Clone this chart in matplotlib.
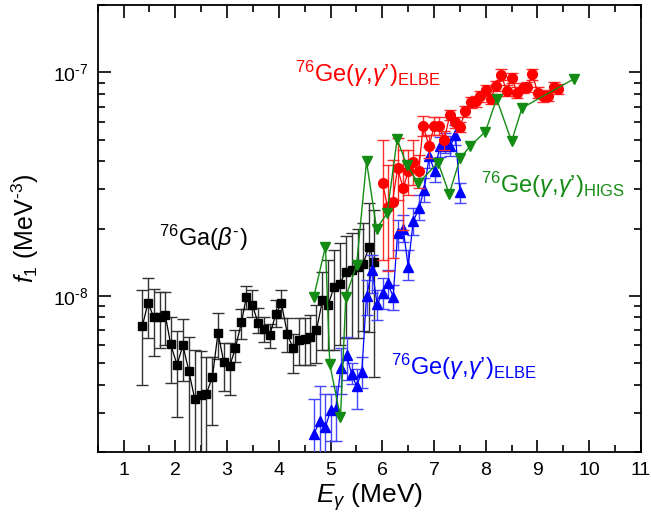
import numpy as np
import matplotlib
matplotlib.use("Agg")
import matplotlib.pyplot as plt
from matplotlib.ticker import MultipleLocator, FixedLocator, LogLocator, NullFormatter, FixedFormatter

plt.rcParams['font.family'] = ['Liberation Sans', 'DejaVu Sans']
plt.rcParams['mathtext.fontset'] = 'custom'
plt.rcParams['mathtext.rm'] = 'Liberation Sans'
plt.rcParams['mathtext.it'] = 'Liberation Sans:italic'
plt.rcParams['mathtext.bf'] = 'Liberation Sans:bold'

# 76Ga beta decay (black squares), f1 in units of 1e-9 MeV^-3
ga_e = [1.364, 1.472, 1.582, 1.698, 1.808, 1.911, 2.033, 2.149, 2.259, 2.375, 2.491,
        2.602, 2.718, 2.826, 2.936, 3.052, 3.162, 3.279, 3.375, 3.491, 3.600, 3.716,
        3.826, 3.942, 4.052, 4.168, 4.277, 4.393, 4.503, 4.613, 4.729, 4.845, 4.953,
        5.070, 5.180, 5.296, 5.406, 5.522, 5.631, 5.747, 5.843]
ga_f = [7.31, 9.3, 8.05, 8.0, 8.17, 6.07, 4.92, 6.0, 4.63, 3.47, 3.59, 3.65, 4.34, 6.83,
        5.06, 4.84, 5.84, 7.6, 9.9, 9.08, 7.57, 7.1, 6.67, 8.28, 9.24, 6.73, 5.81, 6.33,
        6.41, 6.55, 7.01, 9.57, 9.08, 11.0, 11.3, 12.8, 13.0, 13.4, 13.9, 16.6, 14.2]
ga_hi = [10.6, 12.0, 10.7, 10.4, 10.35, 8.05, 6.95, 7.84, 6.55, 5.71, 5.65, 5.32, 5.32,
         8.34, 6.12, 6.12, 7.02, 8.69, 11.1, 10.6, 8.8, 8.05, 7.47, 9.57, 10.6, 7.96,
         6.78, 7.92, 7.92, 8.19, 9.08, 12.8, 14.5, 16.0, 17.2, 18.5, 19.0, 20.0, 21.2,
         26.1, 24.2]
ga_lo = [3.98, 6.5, 5.4, 5.81, 6.01, 4.07, 2.86, 4.14, 1.0, 1.0, 1.0, 1.0, 2.63, 5.24,
         3.74, 3.59, 5.06, 6.44, 8.69, 8.0, 6.83, 6.22, 5.85, 7.26, 7.92, 5.61, 4.52,
         4.89, 4.89, 4.89, 5.01, 5.75, 5.71, 5.75, 6.05, 6.48, 6.48, 6.48, 6.95, 6.9, 4.34]

# 76Ge(g,g') ELBE, blue set, units of 1e-9 MeV^-3
geb_e = [4.683, 4.793, 4.903, 5.006, 5.103, 5.199, 5.310, 5.406, 5.503, 5.605, 5.696,
         5.805, 5.901, 6.006, 6.103, 6.211, 6.296, 6.404, 6.501, 6.598, 6.714, 6.810,
         6.907, 7.012, 7.114, 7.211, 7.313, 7.414, 7.501]
geb_f = [2.42, 2.74, 2.59, 3.09, 3.13, 4.75, 5.42, 4.49, 3.94, 4.56, 9.97, 13.1, 9.15,
         10.3, 11.4, 9.9, 19.0, 20.0, 13.5, 21.5, 24.8, 29.8, 42.0, 36.2, 46.6, 48.0,
         46.6, 52.5, 29.0]
geb_hi = [3.47, 3.94, 3.65, 3.65, 3.94, 5.81, 6.55, 5.0, 4.72, 5.32, 11.75, 15.2, 10.6,
          12.0, 13.0, 11.2, 21.9, 23.0, 16.0, 24.7, 28.3, 33.7, 46.5, 40.6, 51.5, 53.7,
          52.0, 58.3, 31.9]
geb_lo = [1.5, 1.8, 1.8, 2.25, 2.25, 3.65, 4.19, 4.05, 3.13, 3.85, 8.19, 10.3, 7.78,
          8.7, 9.8, 8.6, 16.0, 17.4, 11.8, 18.7, 21.9, 26.3, 37.4, 32.4, 41.9, 43.7,
          42.3, 47.4, 26.1]

# 76Ge(g,g') ELBE, red set, units of 1e-8 MeV^-3
ger_e = [6.006, 6.103, 6.199, 6.296, 6.404, 6.501, 6.598, 6.702, 6.791, 6.905, 7.004,
         7.100, 7.197, 7.308, 7.404, 7.501, 7.604, 7.710, 7.807, 7.894, 8.004, 8.100,
         8.197, 8.294, 8.404, 8.501, 8.609, 8.714, 8.803, 8.903, 9.004, 9.112, 9.209,
         9.319, 9.402]
ger_f = [3.19, 2.49, 2.64, 3.72, 3.03, 3.60, 3.95, 3.60, 5.77, 4.66, 5.77, 5.77, 4.99,
         6.46, 5.97, 5.69, 6.68, 7.33, 7.41, 7.80, 8.30, 7.60, 8.70, 9.77, 8.28, 9.45,
         8.10, 8.52, 8.60, 9.78, 8.10, 7.80, 7.86, 8.60, 8.43]
ger_hi = [4.99, 3.86, 4.06, 5.09, 4.5, 4.5, 4.99, 4.27, 6.4, 5.26, 6.33, 6.33, 5.48,
          6.81, 6.30, 6.00, 7.05, 7.73, 7.82, 8.23, 8.76, 8.02, 9.18, 10.31, 8.74, 9.97,
          8.55, 8.99, 9.07, 10.32, 8.55, 8.23, 8.29, 9.07, 8.89]
ger_lo = [1.45, 1.29, 1.48, 2.69, 1.97, 2.83, 3.13, 3.04, 5.2, 4.14, 5.26, 5.26, 4.5,
          6.10, 5.64, 5.38, 6.31, 6.93, 7.00, 7.37, 7.84, 7.18, 8.22, 9.23, 7.82, 8.93,
          7.65, 8.05, 8.13, 9.24, 7.65, 7.37, 7.43, 8.13, 7.97]

# 76Ge(g,g') HIGS (green), units of 1e-8 MeV^-3
higs_e = [4.677, 4.903, 4.986, 5.193, 5.296, 5.503, 5.696, 5.890, 6.095, 6.288, 6.470,
          6.694, 7.080, 7.294, 7.507, 7.694, 7.994, 8.210, 8.500, 8.700, 9.700]
higs_f = [0.99, 1.66, 0.494, 0.286, 0.99, 1.37, 3.99, 2.0, 2.34, 5.02, 3.86, 3.19, 3.94,
          2.86, 4.13, 4.66, 5.43, 7.6, 4.91, 6.92, 9.33]

# axis ticks
x_ticks = [1, 2, 3, 4, 5, 6, 7, 8, 9, 10, 11]
y_ticks = [1e-8, 1e-7]
y_tick_labels = [r'10$^{\mathregular{‐8}}$', r'10$^{\mathregular{‐7}}$']


def scaled(vals, unit):
    return np.asarray(vals) * unit


def asym_err(f, lo, hi):
    return np.vstack([f - lo, hi - f])


fig = plt.figure(figsize=(6.51, 5.15), dpi=100)
ax = fig.add_axes([0.150, 0.1223, 0.8346, 0.868])

# black: 76Ga beta decay
f = scaled(ga_f, 1e-9)
ax.errorbar(ga_e, f, yerr=asym_err(f, scaled(ga_lo, 1e-9), scaled(ga_hi, 1e-9)),
            fmt='s-', color='black', ecolor='0.2', ms=5.8, lw=0.9, elinewidth=1.0,
            capsize=4, capthick=1.0, zorder=2)

# blue: ELBE
f = scaled(geb_f, 1e-9)
ax.errorbar(geb_e, f, yerr=asym_err(f, scaled(geb_lo, 1e-9), scaled(geb_hi, 1e-9)),
            fmt='^-', color='#0000ff', ecolor='#4646ff', ms=6.5, lw=0.9, elinewidth=1.0,
            capsize=4, capthick=1.0, zorder=3)

# red: ELBE
f = scaled(ger_f, 1e-8)
ax.errorbar(ger_e, f, yerr=asym_err(f, scaled(ger_lo, 1e-8), scaled(ger_hi, 1e-8)),
            fmt='o-', color='#ff0000', ecolor='#ff2a2a', ms=7, lw=0.9, elinewidth=1.0,
            capsize=4, capthick=1.0, zorder=4)

# green: HIGS
ax.plot(higs_e, scaled(higs_f, 1e-8), 'v-', color='#138c13', ms=7.5, lw=1.0, zorder=5)

ax.set_yscale('log')
ax.set_xlim(0.5, 11)
ax.set_ylim(2e-9, 2e-7)

ax.xaxis.set_major_locator(FixedLocator(x_ticks))
ax.xaxis.set_minor_locator(MultipleLocator(0.5))
ax.yaxis.set_major_locator(FixedLocator(y_ticks))
ax.yaxis.set_major_formatter(FixedFormatter(y_tick_labels))
ax.yaxis.set_minor_locator(LogLocator(base=10, subs=np.arange(2, 10), numticks=20))
ax.yaxis.set_minor_formatter(NullFormatter())

ax.tick_params(which='both', direction='in', top=True, right=True, width=1.2,
               labelsize=14)
ax.tick_params(which='major', length=9, pad=7)
ax.tick_params(which='minor', length=5)
for sp in ax.spines.values():
    sp.set_linewidth(1.3)

ax.set_xlabel(r'$E_\gamma$ (MeV)', fontsize=19, labelpad=2)
ax.set_ylabel(r'$f_1$ (MeV$^{\mathregular{‐3}}$)', fontsize=18, labelpad=8)

ax.text(2.55, 1.82e-8, r'$^{76}$Ga($\beta^{\mathregular{‐}}$)', fontsize=17, ha='center',
        va='center', color='black')
ax.text(5.72, 9.8e-8, r"$^{76}$Ge($\gamma$,$\gamma$’)$_{\rm ELBE}$", fontsize=17,
        ha='center', va='center', color='#ff0000')
ax.text(9.3, 3.13e-8, r"$^{76}$Ge($\gamma$,$\gamma$’)$_{\rm HIGS}$", fontsize=17,
        ha='center', va='center', color='#138c13')
ax.text(7.58, 4.8e-9, r"$^{76}$Ge($\gamma$,$\gamma$’)$_{\rm ELBE}$", fontsize=17,
        ha='center', va='center', color='#0000ff')

fig.savefig('out.png', dpi=100)
